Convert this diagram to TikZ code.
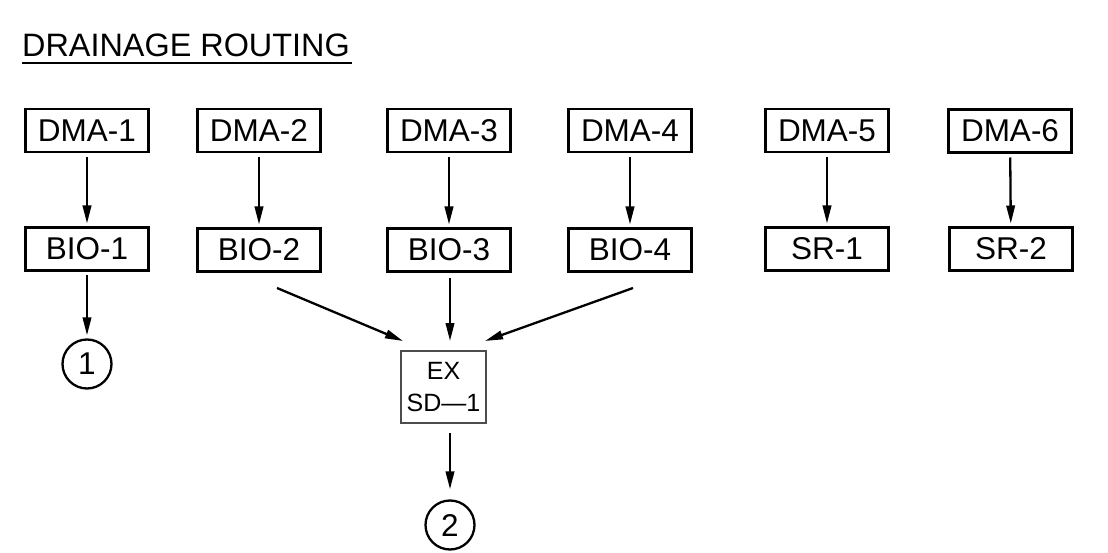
\documentclass[tikz,border=0pt]{standalone}
\usepackage{fontspec}
\setmainfont{Liberation Sans}
\usetikzlibrary{arrows.meta,calc}

\tikzset{
  areabox/.style={draw, line width=2.3pt, minimum width=123pt, minimum height=43pt,
    inner sep=0pt, outer sep=0pt, font=\fontsize{31.5}{36}\selectfont},
  outbox/.style={draw=black!70, line width=1.1pt, minimum width=85pt, minimum height=72pt,
    inner sep=0pt, outer sep=0pt, align=center, font=\fontsize{25}{32}\selectfont},
  outlet/.style={draw, circle, line width=2.3pt, minimum size=49pt, inner sep=0pt,
    font=\fontsize{31.5}{36}\selectfont},
  flow/.style={line width=2.3pt, -{Triangle[length=18pt,width=8.5pt]}},
}

\begin{document}
\begin{tikzpicture}[x=1pt,y=-1pt]
  \useasboundingbox (0,0) rectangle (1108,553);

  % heading
  \node[anchor=base west, inner sep=0pt, font=\fontsize{32.4}{38}\selectfont] (title) at (22,57) {DRAINAGE ROUTING};
  \draw[line width=2.6pt] ($(title.base west)+(0,6)$) -- ($(title.base east)+(2,6)$);

  % drainage management areas
  \node[areabox] (dma1) at (87,130.5)   {DMA-1};
  \node[areabox] (dma2) at (259,130.5)  {DMA-2};
  \node[areabox] (dma3) at (449,130.5)  {DMA-3};
  \node[areabox] (dma4) at (630,130.5)  {DMA-4};
  \node[areabox] (dma5) at (827,130.5)  {DMA-5};
  \node[areabox] (dma6) at (1010,131)   {DMA-6};

  % treatment facilities
  \node[areabox] (bio1) at (87,249)   {BIO-1};
  \node[areabox] (bio2) at (259,250)  {BIO-2};
  \node[areabox] (bio3) at (449,250)  {BIO-3};
  \node[areabox] (bio4) at (630,250)  {BIO-4};
  \node[areabox] (sr1)  at (827,249)  {SR-1};
  \node[areabox] (sr2)  at (1011,249) {SR-2};

  % existing storm drain and outlets
  \node[outbox] (sd1) at (443.5,387) {EX\\SD—1};
  \node[outlet] (o1) at (87,364)  {1};
  \node[outlet] (o2) at (450,525) {2};

  % DMA to facility
  \foreach \a/\b in {dma1/bio1,dma2/bio2,dma3/bio3,dma4/bio4,dma5/sr1,dma6/sr2}
    \draw[flow, shorten <=5pt, shorten >=4pt] (\a) -- (\b);

  % BIO-1 to outlet 1
  \draw[flow, shorten <=5pt, shorten >=3pt] (bio1) -- (o1);

  % facilities draining to the storm drain
  \coordinate (f2) at (277,288);
  \coordinate (f3) at (450,278);
  \coordinate (f4) at (633,288);
  \coordinate (s2) at (403,341);
  \coordinate (s3) at (450,341);
  \coordinate (s4) at (485,341);
  \draw[flow] (f2) -- (s2);
  \draw[flow] (f3) -- (s3);
  \draw[flow] (f4) -- (s4);

  % storm drain to outlet 2
  \coordinate (d1) at (450,433);
  \draw[flow, shorten >=10pt] (d1) -- (o2.north);
\end{tikzpicture}
\end{document}
